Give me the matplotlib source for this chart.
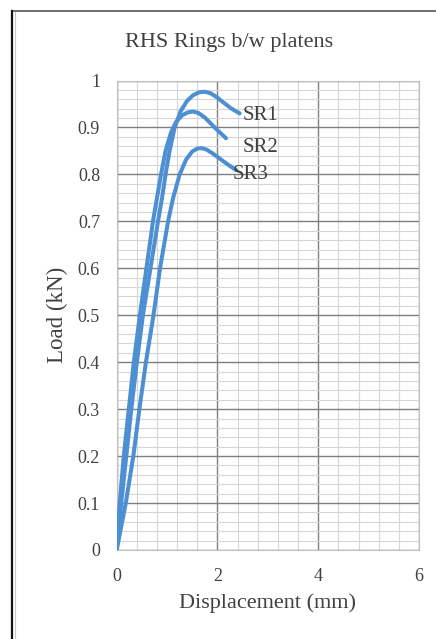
import matplotlib
matplotlib.use("Agg")
import matplotlib.pyplot as plt
from matplotlib.lines import Line2D
from matplotlib.ticker import MultipleLocator

# Load-displacement curves of RHS rings compressed between platens
sr1_disp = [0, 0.09, 0.19, 0.29, 0.40, 0.52, 0.67, 0.82, 0.90, 0.97, 1.05, 1.15,
            1.27, 1.40, 1.52, 1.64, 1.75, 1.86, 1.98, 2.12, 2.28, 2.44]
sr1_load = [0, 0.1, 0.2, 0.3, 0.4, 0.5, 0.6, 0.7, 0.75, 0.8, 0.85, 0.9,
            0.935, 0.957, 0.969, 0.975, 0.976, 0.973, 0.965, 0.953, 0.94, 0.93]

sr2_disp = [0, 0.06, 0.14, 0.24, 0.34, 0.46, 0.59, 0.72, 0.80, 0.88, 0.97, 1.08,
            1.18, 1.30, 1.41, 1.51, 1.62, 1.75, 1.88, 2.02, 2.17]
sr2_load = [0, 0.1, 0.2, 0.3, 0.4, 0.5, 0.6, 0.7, 0.75, 0.8, 0.85, 0.89,
            0.912, 0.926, 0.932, 0.934, 0.931, 0.921, 0.907, 0.892, 0.877]

sr3_disp = [0, 0.18, 0.33, 0.45, 0.58, 0.73, 0.86, 1.02, 1.12, 1.25, 1.38, 1.50,
            1.60, 1.68, 1.78, 1.90, 2.03, 2.18, 2.37]
sr3_load = [0, 0.1, 0.2, 0.3, 0.4, 0.5, 0.6, 0.7, 0.75, 0.8, 0.832, 0.849,
            0.855, 0.856, 0.853, 0.845, 0.835, 0.823, 0.809]

series_names = ["SR1", "SR2", "SR3"]
x_ticks = [0, 2, 4, 6]
y_ticks = [0, 0.1, 0.2, 0.3, 0.4, 0.5, 0.6, 0.7, 0.8, 0.9, 1]
y_tick_labels = ["0", "0.1", "0.2", "0.3", "0.4", "0.5", "0.6", "0.7", "0.8", "0.9", "1"]

plt.rcParams["font.family"] = ["Liberation Serif", "DejaVu Serif"]
text_color = "#404040"
line_color = "#4d8fd3"

fig = plt.figure(figsize=(4.36, 6.39), dpi=100)
fig.patch.set_facecolor("white")

# chart frame (top and left edges)
fig.add_artist(Line2D([12 / 436, 1], [1 - 10.5 / 639, 1 - 10.5 / 639],
                      color="#555555", lw=1.2, transform=fig.transFigure))
fig.add_artist(Line2D([12 / 436, 12 / 436], [0, 1 - 10.5 / 639],
                      color="#111111", lw=1.6, transform=fig.transFigure))
fig.add_artist(Line2D([14.5 / 436, 14.5 / 436], [0, 1 - 12 / 639],
                      color="#c8c8c8", lw=0.8, transform=fig.transFigure))

ax = fig.add_axes([116.7 / 436, 89 / 639, (419 - 116.7) / 436, (550 - 80.5) / 639])

for d, l in [(sr1_disp, sr1_load), (sr2_disp, sr2_load), (sr3_disp, sr3_load)]:
    ax.plot(d, l, color=line_color, lw=2.9, solid_capstyle="round",
            solid_joinstyle="round", zorder=3)

ax.set_xlim(0, 6)
ax.set_ylim(0, 1)
ax.set_xticks(x_ticks)
ax.set_yticks(y_ticks)
ax.set_yticklabels(y_tick_labels)
ax.xaxis.set_minor_locator(MultipleLocator(0.4))
ax.yaxis.set_minor_locator(MultipleLocator(0.02))
ax.grid(which="minor", color="#d6d6d6", lw=0.8)
ax.grid(which="major", color="#7f7f7f", lw=1.0)
ax.set_axisbelow(True)
ax.tick_params(which="both", length=0)
ax.tick_params(axis="y", pad=12, labelsize=13, labelcolor=text_color)
ax.tick_params(axis="x", pad=13, labelsize=13, labelcolor=text_color)
for s in ax.spines.values():
    s.set_color("#c0c0c0")
    s.set_linewidth(0.8)

ax.set_xlabel("Displacement (mm)", fontsize=16, color=text_color, labelpad=6)
ax.set_ylabel("Load (kN)", fontsize=16.5, color=text_color, labelpad=7)

# curve labels at the end of each series
ends = [(sr1_disp[-1], sr1_load[-1]), (sr2_disp[-1], sr2_load[-1]), (sr3_disp[-1], sr3_load[-1])]
offsets = [(0.06, -0.004), (0.32, -0.019), (-0.06, -0.01)]
for name, (ex, ey), (dx, dy) in zip(series_names, ends, offsets):
    ax.text(ex + dx, ey + dy, name, fontsize=15, color=text_color,
            ha="left", va="center", zorder=4)

fig.text(229 / 436, 1 - 42 / 639, "RHS Rings b/w platens", fontsize=16,
         color=text_color, ha="center", va="center")

fig.savefig("out.png", dpi=100, facecolor="white")
